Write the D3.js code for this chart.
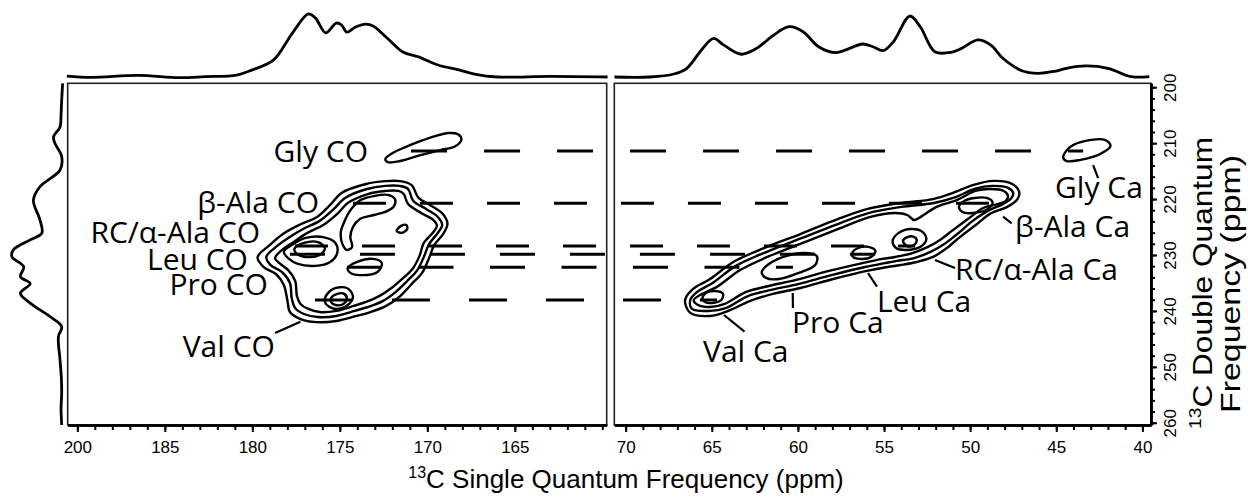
<!DOCTYPE html>
<html>
<head>
<meta charset="utf-8">
<script src="https://cdn.jsdelivr.net/npm/d3@7"></script>
<style>
  body { margin: 0; background: #fff; }
  svg { display: block; }
  .tick text { font-family: "Liberation Sans", Arial, sans-serif; font-size: 17px; fill: #000; }
  .peak-label { font-family: "Open Sans", sans-serif; font-size: 30px; fill: #000; }
  .axis-title { font-family: "Liberation Sans", Arial, sans-serif; font-size: 26px; fill: #000; }
</style>
</head>
<body>
<div id="chart"></div>
<script>
/* DATA */
// ticks (the left panel's first tick carries the label "200" in the original)
const sqTicksCO = [190, 185, 180, 175, 170, 165]
const sqTickLabelsCO = ["200", "185", "180", "175", "170", "165"]
const sqTicksCa = [70, 65, 60, 55, 50, 45, 40]
const dqTicks = [200, 210, 220, 230, 240, 250, 260]

// 1D projections: [ppm, intensity]
const projCO = [[190.6,1.5],[189.2,-0.5],[186.5,2.5],[184.2,-1],[182.7,0.5],[180.9,3],[180.0,11],[178.8,26],[177.7,68],[176.8,97],[176.4,91],[175.8,68],[175.2,83],[174.9,80],[174.6,69],[174.1,77],[173.5,81.5],[173.1,78.5],[172.3,60],[171.4,38.5],[170.5,31],[169.4,18.5],[168.2,11],[167.3,4.6],[166.0,0],[163.0,1],[159.7,0]]
const projCa = [[70.65,0],[68.6,0],[67.2,4.6],[66.45,13.4],[65.6,41.5],[64.9,59.5],[64.3,49],[63.3,35],[62.4,44],[61.4,64.6],[60.5,77.4],[59.7,69.7],[58.8,46.6],[57.8,37.4],[57.0,44],[56.25,50.8],[55.65,46.6],[55.05,40.5],[54.45,54.3],[53.5,93.8],[52.9,77.4],[52.05,38.9],[51.1,38],[50.5,44],[49.55,57],[48.8,49],[48.1,28.8],[47.0,9.7],[46.05,5.7],[45.1,8.8],[44.4,13.4],[43.3,17],[42.0,13.4],[40.65,0.5],[39.6,0.5]]
const projDQ = [[199.3,-1],[202.3,0.5],[205.0,1.5],[207.1,3],[208.85,13],[210.0,11],[212.4,0.5],[214.8,3],[217.8,34],[220.2,44],[223.7,34],[226.1,31],[227.3,49],[229.1,75],[230.3,77],[232.1,59],[233.9,64],[235.1,49],[236.85,64],[238.6,49],[241.0,18.5],[242.8,0.5],[244.6,5.5],[248.8,3],[252.0,1],[254.7,0.5],[257.5,1.5],[260.4,0.5]]

// contour lines: [single quantum ppm, double quantum ppm]
const contoursCO = [
  [[172.4,212.85],[172.0,211.8],[171.25,210.7],[170.4,209.65],[169.55,208.75],[168.8,208.2],[168.25,208.4],[168.05,209.3],[168.4,210.55],[169.25,211.25],[170.4,212.15],[171.55,213.2],[172.25,213.4]],
  [[179.7,230.4],[179.0,228.2],[178.25,226.25],[177.3,224.6],[176.3,223.2],[175.55,221.05],[174.9,218.9],[173.5,217.3],[172.4,216.8],[171.55,216.8],[170.9,217.5],[170.5,219.8],[169.85,221.05],[169.1,222.7],[168.85,224.45],[169.1,226.25],[169.6,228.2],[169.9,230.55],[170.3,233.2],[170.9,235.2],[171.55,237.35],[172.35,239.1],[173.25,240.2],[174.05,240.9],[175.2,241.8],[176.35,242.0],[177.25,241.45],[177.85,240.2],[178.0,238.05],[178.2,235.35],[178.65,233.4],[179.35,232.15]],
  [[179.2,230.35],[178.65,228.55],[177.95,226.95],[177.1,225.35],[176.15,223.9],[175.35,221.8],[174.7,219.8],[173.45,218.2],[172.4,217.65],[171.6,217.65],[171.1,218.2],[170.8,220.35],[170.05,221.8],[169.4,223.2],[169.15,224.65],[169.4,226.05],[169.9,228.05],[170.2,230.35],[170.6,232.85],[171.15,234.65],[171.8,236.6],[172.55,238.25],[173.4,239.3],[174.15,240.0],[175.2,240.9],[176.25,241.1],[177.05,240.55],[177.55,239.5],[177.75,237.7],[177.85,235.0],[178.3,233.05],[178.95,231.8]],
  [[178.7,230.55],[178.25,228.95],[177.65,227.7],[176.85,226.05],[175.95,224.65],[175.1,222.5],[174.55,220.7],[173.4,219.1],[172.4,218.55],[171.65,218.55],[171.35,219.1],[171.1,220.9],[170.35,222.5],[169.65,223.75],[169.45,224.8],[169.65,225.9],[170.2,227.85],[170.45,230.2],[170.85,232.5],[171.45,234.3],[172.05,235.9],[172.75,237.35],[173.5,238.4],[174.2,239.1],[175.2,240.0],[176.15,240.2],[176.8,239.65],[177.25,238.75],[177.45,237.35],[177.55,234.65],[177.95,232.7],[178.4,231.6]],
  [[174.8,228.4],[174.95,226.05],[174.75,224.1],[174.35,221.8],[173.8,220.15],[173.05,219.45],[172.25,219.25],[171.85,220.0],[171.9,221.25],[172.3,222.15],[173.05,222.85],[173.85,223.55],[174.25,225.0],[174.4,226.8],[174.3,228.55],[174.6,229.1]],
  [[178.2,229.45],[177.65,228.05],[176.95,226.95],[175.95,226.8],[175.25,227.85],[175.15,229.65],[175.55,231.25],[176.4,231.95],[177.4,231.6],[177.9,230.7]],
  [[177.6,228.95],[177.05,227.85],[176.25,227.7],[175.85,228.75],[176.15,230.0],[176.95,230.35],[177.45,229.8]],
  [[174.55,232.35],[174.0,231.25],[173.1,230.7],[172.6,231.45],[172.85,233.05],[173.85,233.6],[174.4,233.2]],
  [[175.85,237.7],[175.4,236.1],[174.6,235.9],[174.25,237.35],[174.55,238.95],[175.25,239.65],[175.8,238.75]],
  [[175.5,237.7],[175.15,236.95],[174.75,236.95],[174.6,237.85],[174.8,238.75],[175.25,238.95],[175.5,238.4]],
  [[171.75,225.7],[171.5,224.8],[171.2,224.65],[171.15,225.35],[171.45,226.05]]
]
const contoursCa = [
  [[44.6,212.5],[44.2,210.7],[43.3,209.6],[42.15,209.45],[41.85,210.5],[42.45,211.95],[43.6,213.0],[44.4,213.2]],
  [[66.55,238.05],[66.1,236.1],[65.1,234.3],[63.75,231.25],[61.8,228.55],[59.85,226.25],[57.95,223.9],[56.0,221.8],[54.05,220.7],[52.15,220.0],[51.0,218.9],[49.85,217.5],[48.65,216.75],[47.55,217.3],[47.15,218.75],[47.25,220.0],[47.85,221.4],[48.85,222.65],[49.6,224.45],[50.6,226.8],[51.35,228.75],[52.15,230.35],[53.1,231.25],[54.05,231.8],[54.8,232.15],[56.0,232.85],[57.95,234.3],[59.85,235.9],[61.45,236.95],[62.8,238.25],[64.05,240.0],[65.1,240.9],[66.25,240.35]],
  [[66.25,238.05],[65.85,236.6],[64.95,235.0],[63.6,231.95],[61.7,229.3],[59.75,226.95],[57.85,224.65],[55.9,222.5],[54.0,221.4],[52.1,220.7],[50.85,219.65],[49.75,218.2],[48.7,217.65],[47.8,218.0],[47.5,218.9],[47.6,219.8],[48.1,220.9],[49.0,222.15],[49.85,223.9],[50.75,226.25],[51.5,228.05],[52.3,229.45],[53.25,230.55],[54.25,231.05],[54.95,231.45],[56.1,232.15],[58.05,233.6],[60.0,235.2],[61.55,236.25],[62.9,237.35],[64.2,239.5],[65.1,240.0],[66.15,239.65]],
  [[66.05,238.05],[65.55,236.95],[64.7,235.7],[63.35,232.7],[61.5,230.0],[59.6,227.7],[57.65,225.35],[55.8,223.2],[54.35,222.5],[53.65,222.85],[53.25,223.75],[52.8,223.05],[51.95,221.4],[50.75,220.15],[49.7,218.55],[48.8,218.2],[48.05,218.55],[47.8,219.45],[47.95,220.35],[48.4,220.9],[49.25,221.6],[50.05,223.4],[51.0,225.55],[51.75,227.3],[52.45,228.55],[53.35,229.65],[54.35,230.35],[55.1,230.7],[56.25,231.45],[58.2,232.85],[60.1,234.45],[61.7,235.55],[63.0,236.6],[64.25,238.75],[65.1,239.3],[65.8,238.95]],
  [[50.65,221.4],[50.35,220.35],[49.75,219.8],[49.05,219.8],[48.7,220.55],[49.0,221.8],[49.85,222.5],[50.45,222.3]],
  [[54.5,227.5],[54.15,226.05],[53.45,225.35],[52.75,225.9],[52.55,227.3],[52.9,228.55],[53.7,229.1],[54.3,228.75]],
  [[53.9,227.5],[53.65,226.8],[53.3,226.7],[53.1,227.3],[53.25,228.2],[53.65,228.4]],
  [[56.85,229.65],[56.5,228.75],[55.9,228.55],[55.5,229.3],[55.75,230.35],[56.4,230.7],[56.8,230.35]],
  [[62.1,233.05],[61.6,231.45],[60.7,230.2],[59.65,229.65],[58.9,230.2],[59.0,231.8],[59.95,233.2],[61.1,234.3],[61.85,234.1]],
  [[65.55,237.85],[65.35,236.8],[64.8,236.45],[64.35,236.95],[64.45,238.05],[65.0,238.6],[65.4,238.4]]
]

// correlations: double quantum shift, where the dashed guide starts (CO) and ends (Ca)
const residues = ["Gly", "β-Ala", "RC/α-Ala", "Leu", "Pro", "Val"]
const dqShift = [211.41, 220.76, 228.39, 229.88, 232.20, 238.05]
const guideStartCO = [170.93, 174.25, 177.56, 177.85, 174.59, 176.42]
const guideEndCa = [43.44, 48.90, 53.20, 55.52, 60.29, 64.70]

// peak labels, anchored in ppm
const labelsCO = ["Gly CO", "β-Ala CO", "RC/α-Ala CO", "Leu CO", "Pro CO", "Val CO"]
const labelCOsq = [173.39, 176.19, 179.56, 180.25, 179.11, 178.71]
const labelCOdq = [213.32, 222.55, 227.91, 232.68, 237.15, 248.19]
const labelsCa = ["Gly Ca", "β-Ala Ca", "RC/α-Ala Ca", "Leu Ca", "Pro Ca", "Val Ca"]
const labelCasq = [45.07, 47.39, 50.88, 55.41, 60.34, 65.51]
const labelCadq = [219.86, 226.73, 234.47, 240.14, 244.0, 249.08]
const leadersCO = [[[178.70,243.95],[177.25,241.93]]]
const leadersCa = [
  [[42.86,213.93],[42.57,216.25]],
  [[48.09,223.15],[47.59,224.33]],
  [[52.04,230.90],[50.88,232.34]],
  [[55.93,233.22],[55.41,235.67]],
  [[60.30,236.80],[60.29,239.47]],
  [[64.29,240.73],[63.10,243.72]]
]

/* STYLE */
const guideDash = ["36,37", "33,34", "33,34", "35,35", "35,36.5", "38,39"]

/* CONSTANTS AND GLOBALS */
const width = 1248,
  height = 497,
  plotTop = 83.3,
  plotBottom = 425

const svg = d3.select("#chart")
  .append("svg")
  .attr("width", width)
  .attr("height", height)

//scales
const xCO = d3.scaleLinear().domain([190.55, 159.75]).range([67.7, 606.7])
const xCa = d3.scaleLinear().domain([70.66, 39.5]).range([614.3, 1151])
const yDQ = d3.scaleLinear().domain([199.3, 260.4]).range([plotTop, plotBottom])
const yProj = d3.scaleLinear().domain([0, 100]).range([77, 12])
const xProj = d3.scaleLinear().domain([0, 100]).range([62, -3])

//panel frames
;[xCO, xCa].forEach(x => {
  svg.append("rect")
    .attr("x", x.range()[0])
    .attr("y", plotTop)
    .attr("width", x.range()[1] - x.range()[0])
    .attr("height", plotBottom - plotTop)
    .attr("fill", "none")
    .attr("stroke", "#222")
    .attr("stroke-width", 1.6)
})

//x-axes, minor then major
function styleAxis(g) {
  g.select(".domain").attr("stroke", "#000").attr("stroke-width", 2.5)
  g.selectAll(".tick line").attr("stroke", "#000").attr("stroke-width", 2)
}

svg.append("g")
  .attr("transform", `translate(0,${plotBottom})`)
  .call(d3.axisBottom(xCO).tickValues(d3.range(160, 191)).tickSize(5).tickSizeOuter(0).tickFormat(""))
  .call(styleAxis)
svg.append("g")
  .attr("class", "x-axis")
  .attr("transform", `translate(0,${plotBottom})`)
  .call(d3.axisBottom(xCO).tickValues(sqTicksCO).tickSize(7).tickSizeOuter(0).tickPadding(9)
    .tickFormat((d, i) => sqTickLabelsCO[i]))
  .call(styleAxis)

svg.append("g")
  .attr("transform", `translate(0,${plotBottom})`)
  .call(d3.axisBottom(xCa).tickValues(d3.range(40, 71)).tickSize(5).tickSizeOuter(0).tickFormat(""))
  .call(styleAxis)
svg.append("g")
  .attr("class", "x-axis")
  .attr("transform", `translate(0,${plotBottom})`)
  .call(d3.axisBottom(xCa).tickValues(sqTicksCa).tickSize(7).tickSizeOuter(0).tickPadding(9))
  .call(styleAxis)

//y-axis on the right
svg.append("g")
  .attr("transform", `translate(${xCa.range()[1]},0)`)
  .call(d3.axisRight(yDQ).tickValues(d3.range(200, 261, 2)).tickSize(4).tickSizeOuter(0).tickFormat(""))
  .call(styleAxis)
const gy = svg.append("g")
  .attr("class", "y-axis")
  .attr("transform", `translate(${xCa.range()[1]},0)`)
  .call(d3.axisRight(yDQ).tickValues(dqTicks).tickSize(6).tickSizeOuter(0))
  .call(styleAxis)
gy.selectAll(".tick text")
  .attr("transform", "rotate(-90)")
  .attr("x", 0)
  .attr("y", 25)
  .attr("dy", 0)
  .attr("text-anchor", "middle")

//axis titles
const xTitle = svg.append("text")
  .attr("class", "axis-title")
  .attr("x", 626)
  .attr("y", 488)
  .attr("text-anchor", "middle")
xTitle.append("tspan").attr("font-size", 16).attr("dy", -10).text("13")
xTitle.append("tspan").attr("dy", 10).text("C Single Quantum Frequency (ppm)")

// the vertical title is drawn stretched along its baseline, as in the original
const yTitle = svg.append("text")
  .attr("class", "axis-title")
  .attr("font-size", 28)
  .style("font-size", "28px")
  .attr("transform", "translate(1212,283) rotate(-90)")
  .attr("text-anchor", "middle")
  .attr("textLength", 292)
  .attr("lengthAdjust", "spacingAndGlyphs")
yTitle.append("tspan").style("font-size", "17px").attr("dy", -11).text("13")
yTitle.append("tspan").attr("dy", 11).text("C Double Quantum")
svg.append("text")
  .attr("class", "axis-title")
  .style("font-size", "28px")
  .attr("transform", "translate(1240,284) rotate(-90)")
  .attr("text-anchor", "middle")
  .attr("textLength", 258)
  .attr("lengthAdjust", "spacingAndGlyphs")
  .text("Frequency (ppm)")

//projections
const curve = d3.curveCatmullRom.alpha(0.5)
svg.append("path")
  .attr("d", d3.line().x(d => xCO(d[0])).y(d => yProj(d[1])).curve(curve)(projCO))
  .attr("fill", "none").attr("stroke", "#000").attr("stroke-width", 2.8)
svg.append("path")
  .attr("d", d3.line().x(d => xCa(d[0])).y(d => yProj(d[1])).curve(curve)(projCa))
  .attr("fill", "none").attr("stroke", "#000").attr("stroke-width", 2.8)
svg.append("path")
  .attr("d", d3.line().x(d => xProj(d[1])).y(d => yDQ(d[0])).curve(curve)(projDQ))
  .attr("fill", "none").attr("stroke", "#000").attr("stroke-width", 2.8)

//dashed guides from CO to Ca
svg.selectAll(".guide")
  .data(residues)
  .join("path")
  .attr("class", "guide")
  .attr("d", (d, i) => `M${xCO(guideStartCO[i])},${yDQ(dqShift[i])}H${xCa(guideEndCa[i])}`)
  .attr("stroke", "#000")
  .attr("stroke-width", 3)
  .attr("stroke-dasharray", (d, i) => guideDash[i])

//contours
const contourCO = d3.line().x(d => xCO(d[0])).y(d => yDQ(d[1])).curve(d3.curveCatmullRomClosed.alpha(0.5))
const contourCa = d3.line().x(d => xCa(d[0])).y(d => yDQ(d[1])).curve(d3.curveCatmullRomClosed.alpha(0.5))
svg.selectAll(".contour-co")
  .data(contoursCO)
  .join("path")
  .attr("class", "contour-co")
  .attr("d", d => contourCO(d))
  .attr("fill", "none").attr("stroke", "#000").attr("stroke-width", 2.4)
svg.selectAll(".contour-ca")
  .data(contoursCa)
  .join("path")
  .attr("class", "contour-ca")
  .attr("d", d => contourCa(d))
  .attr("fill", "none").attr("stroke", "#000").attr("stroke-width", 2.4)

//labels and leader lines
svg.selectAll(".label-co")
  .data(labelsCO)
  .join("text")
  .attr("class", "peak-label label-co")
  .attr("x", (d, i) => xCO(labelCOsq[i]))
  .attr("y", (d, i) => yDQ(labelCOdq[i]))
  .attr("text-anchor", "end")
  .text(d => d)
svg.selectAll(".label-ca")
  .data(labelsCa)
  .join("text")
  .attr("class", "peak-label label-ca")
  .attr("x", (d, i) => xCa(labelCasq[i]))
  .attr("y", (d, i) => yDQ(labelCadq[i]))
  .attr("text-anchor", "start")
  .text(d => d)

svg.selectAll(".leader-co")
  .data(leadersCO)
  .join("path")
  .attr("class", "leader-co")
  .attr("d", d3.line().x(d => xCO(d[0])).y(d => yDQ(d[1])))
  .attr("stroke", "#000").attr("stroke-width", 2.2)
svg.selectAll(".leader-ca")
  .data(leadersCa)
  .join("path")
  .attr("class", "leader-ca")
  .attr("d", d3.line().x(d => xCa(d[0])).y(d => yDQ(d[1])))
  .attr("stroke", "#000").attr("stroke-width", 2.2)
</script>
</body>
</html>
